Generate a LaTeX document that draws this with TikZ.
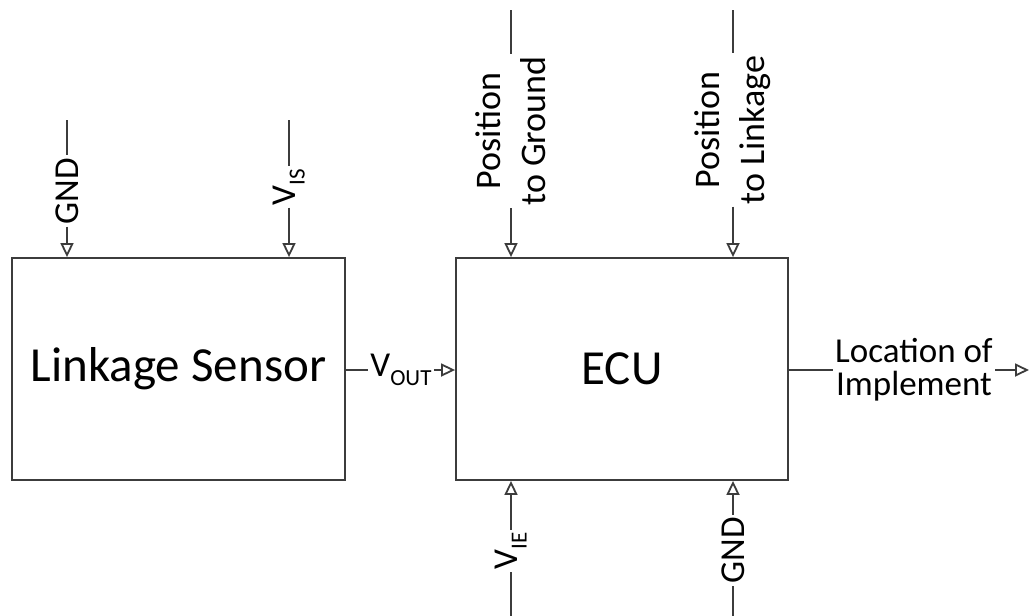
\documentclass[tikz,border=0pt]{standalone}
\usepackage{fontspec}
\setmainfont{Carlito}
\usetikzlibrary{arrows.meta}
\definecolor{wireGray}{HTML}{3C3C3C}

% smaller, lowered index text (V_OUT, V_IS, ...)
\newcommand{\lowtext}[1]{\raisebox{-0.25em}{\fontsize{11.5}{11.5}\selectfont #1}}

\begin{document}
\begin{tikzpicture}[x=0.5pt, y=-0.5pt, >={Triangle[open, length=7pt, width=6.5pt]}]

    % --- 0. Styles and frame ---
    \tikzstyle{block}=[draw=wireGray, line width=0.9pt, inner sep=0pt, minimum height=111pt, font=\fontsize{24.5}{28}\selectfont]
    \tikzstyle{signal}=[inner xsep=1pt, inner ysep=0pt, font=\fontsize{17.5}{16.5}\selectfont]
    \tikzstyle{wire}=[draw=wireGray, line width=0.9pt]

    \useasboundingbox (0,0) rectangle (1030,616);


    % --- 1. The Blocks ---
    \node[block, minimum width=166.5pt] (sensor) at (178.5,369) {Linkage Sensor};
    \node[block, minimum width=166pt] (ecu) at (622,369) {ECU};


    % --- 2. Sensor Inputs (top) ---
    \coordinate (gndInTop) at (67,120);
    \coordinate (visInTop) at (289,120);
    \node[signal, rotate=90] (gndIn) at (67,191) {GND};
    \node[signal, rotate=90] (visIn) at (289,187) {V\lowtext{IS}};

    \draw[wire] (gndInTop) -- (gndIn);
    \draw[wire, ->] (gndIn) -- (gndIn |- sensor.north);
    \draw[wire] (visInTop) -- (visIn);
    \draw[wire, ->] (visIn) -- (visIn |- sensor.north);


    % --- 3. Sensor Output into the ECU ---
    \node[signal, anchor=west] (vout) at (368,370) {V\lowtext{OUT}};
    \draw[wire] (sensor.east |- vout) -- (vout);
    \draw[wire, ->] (vout) -- (vout -| ecu.west);


    % --- 4. ECU Inputs (top) ---
    \coordinate (posGndTop) at (511,10);
    \coordinate (posLinkTop) at (733,10);
    \node[signal, rotate=90, align=center, font=\fontsize{18}{22.5}\selectfont] (posGnd) at (511,131) {Position\\to Ground};
    \node[signal, rotate=90, align=center, font=\fontsize{18}{22.5}\selectfont] (posLink) at (733,130) {Position\\to Linkage};

    \draw[wire] (posGndTop) -- (posGnd);
    \draw[wire, ->] (posGnd) -- (posGnd |- ecu.north);
    \draw[wire] (posLinkTop) -- (posLink);
    \draw[wire, ->] (posLink) -- (posLink |- ecu.north);


    % --- 5. ECU Inputs (bottom) ---
    \coordinate (vieBot) at (511,616);
    \coordinate (gndBot) at (733,616);
    \node[signal, rotate=90] (vie) at (511,551) {V\lowtext{IE}};
    \node[signal, rotate=90] (gndEcu) at (733,550) {GND};

    \draw[wire] (vieBot) -- (vie);
    \draw[wire, ->] (vie) -- (vie |- ecu.south);
    \draw[wire] (gndBot) -- (gndEcu);
    \draw[wire, ->] (gndEcu) -- (gndEcu |- ecu.south);


    % --- 6. ECU Output ---
    \coordinate (locEnd) at (1029,370);
    \node[signal, align=center] (loc) at (914,370) {Location of\\Implement};
    \draw[wire] (ecu.east |- loc) -- (loc);
    \draw[wire, ->] (loc) -- (locEnd);

\end{tikzpicture}
\end{document}
